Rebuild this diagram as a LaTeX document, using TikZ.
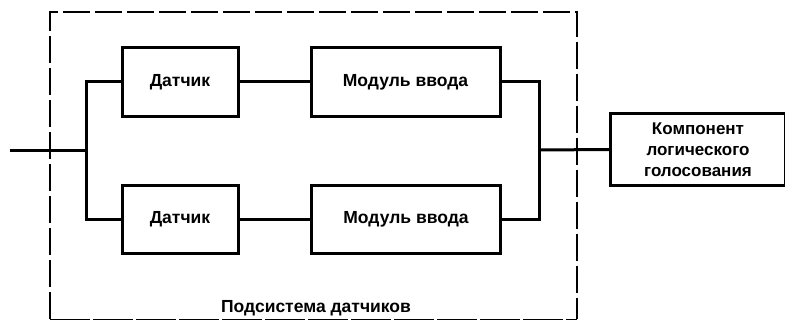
\documentclass[tikz,border=0pt]{standalone}
\usepackage{fontspec}
\setmainfont{Liberation Sans}
\begin{document}
\begin{tikzpicture}[x=1pt,y=-1pt,
  blk/.style={draw=black,line width=3pt,inner sep=0pt},
  txt/.style={font=\fontsize{17.5}{21}\selectfont\bfseries,align=center},
  wire/.style={line width=3pt},
  sub/.style={draw=black,line width=2.2pt,dash pattern=on 27pt off 5pt}]
\useasboundingbox (0,0) rectangle (785,321);
% subsystem border
\draw[sub] (50,319) -- (50,12) -- (577,12) -- (577,319);
\draw[line width=1pt,dash pattern=on 40pt off 3pt] (50,319.5) -- (577,319.5);
% blocks
\node[blk,minimum width=116pt,minimum height=68pt] (s1) at (180,82) {};
\node[blk,minimum width=116pt,minimum height=68pt] (s2) at (180,219) {};
\node[blk,minimum width=189pt,minimum height=68pt] (m1) at (405.5,82) {};
\node[blk,minimum width=189pt,minimum height=68pt] (m2) at (406,219) {};
\node[blk,minimum width=175pt,minimum height=72pt] (v) at (698,149.5) {};
% texts
\node[txt] (ts1) at (s1) {Датчик};
\node[txt] (ts2) at (s2) {Датчик};
\node[txt] (tm1) at (m1) {Модуль ввода};
\node[txt] (tm2) at (m2) {Модуль ввода};
\node[txt,font=\fontsize{17}{21}\selectfont\bfseries] (tv) at (v) {Компонент\\логического\\голосования};
\node[txt] (lab) at (316,308) {Подсистема датчиков};
% wiring
\coordinate (in) at (10,150);
\coordinate (jl) at (86,150);
\coordinate (jr) at (539,150);
\draw[wire] (in) -- (jl);
\draw[wire] (s1.west) -| (jl) |- (s2.west);
\draw[wire] (s1.east) -- (m1.west);
\draw[wire] (s2.east) -- (m2.west);
\draw[wire] (m1.east) -| (jr) |- (m2.east);
\draw[wire] (jr) -- (v.west);
\end{tikzpicture}
\end{document}
